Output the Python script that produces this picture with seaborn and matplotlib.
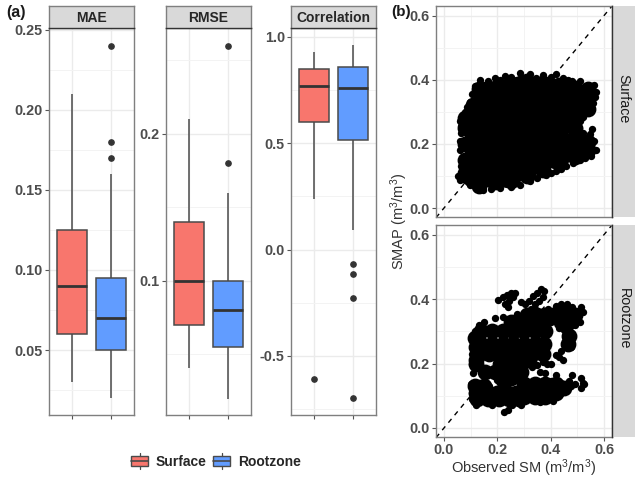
import numpy as np
import pandas as pd
import matplotlib
matplotlib.use('Agg')
import matplotlib.pyplot as plt
import seaborn as sns
from matplotlib.legend_handler import HandlerBase
from matplotlib.lines import Line2D
from matplotlib.patches import Patch, Rectangle

# ── Box summaries: low whisker, Q1, median, Q3, high whisker ──
LAYERS = ['Surface', 'Rootzone']
COLORS = {'Surface': '#F8766D', 'Rootzone': '#619CFF'}

mae_surface = [0.03, 0.06, 0.09, 0.125, 0.21]
mae_rootzone = [0.02, 0.05, 0.07, 0.095, 0.16]
mae_outliers_rootzone = [0.17, 0.18, 0.24]

rmse_surface = [0.041, 0.07, 0.10, 0.14, 0.21]
rmse_rootzone = [0.02, 0.055, 0.08, 0.10, 0.16]
rmse_outliers_rootzone = [0.18, 0.26]

corr_surface = [0.24, 0.60, 0.77, 0.85, 0.93]
corr_rootzone = [0.09, 0.515, 0.76, 0.86, 0.96]
corr_outliers_surface = [-0.61]
corr_outliers_rootzone = [-0.07, -0.115, -0.23, -0.70]

# ── Scatter clouds ──
surface_edge_x = [.059, .066, .078, .087, .096, .105, .115, .134, .150, .165, .190, .210, .228, .253, .270, .286,
                  .321, .345, .371, .400, .421, .446, .465, .481, .511, .534, .561, .569, .565, .559, .545, .534,
                  .520, .509, .505, .521, .556, .546, .561, .569, .553, .530, .509, .485, .459, .440, .420, .400,
                  .384, .350, .321, .284, .250, .209, .175, .146, .120, .096, .078, .059, .053, .065, .070, .059,
                  .059, .063, .065]
surface_edge_y = [.270, .285, .301, .316, .332, .355, .379, .400, .385, .395, .405, .398, .412, .408, .398, .421,
                  .418, .405, .415, .410, .418, .405, .398, .397, .397, .374, .384, .363, .345, .327, .312, .296,
                  .283, .270, .249, .234, .246, .231, .208, .182, .161, .157, .151, .141, .130, .123, .115, .110,
                  .104, .093, .083, .073, .067, .062, .058, .055, .062, .073, .088, .088, .099, .130, .155, .182,
                  .210, .234, .255]
surface_core_x = [.13, .13, .13, .13, .18, .18, .18, .18, .18, .18, .24, .24, .24, .24, .24, .24,
                  .30, .30, .30, .30, .30, .30, .36, .36, .36, .36, .36, .42, .42, .42, .42,
                  .48, .48, .48]
surface_core_y = [.13, .18, .23, .28, .11, .16, .21, .26, .31, .35, .11, .16, .21, .26, .31, .36,
                  .13, .18, .23, .28, .33, .37, .16, .21, .26, .31, .36, .26, .31, .36, .17,
                  .30, .35, .19]
surface_mid_x = [.08, .08, .08, .08, .08, .13, .13, .13, .13, .13, .19, .19, .25, .25, .31, .31,
                 .37, .37, .43, .43, .43, .49, .49, .49, .49, .54, .54, .54, .54, .54, .11, .10]
surface_mid_y = [.11, .15, .20, .25, .28, .09, .33, .37, .23, .07, .08, .375, .085, .385, .10, .395,
                 .12, .39, .14, .23, .385, .16, .25, .375, .22, .18, .205, .31, .35, .37, .32, .09]

rootzone_edge_x = [.203, .220, .235, .250, .267, .260, .245, .230, .240, .290, .305, .320, .335, .350, .365, .375,
                   .370, .355, .340, .325, .305, .275, .110, .115, .130, .150, .190, .220, .260, .300, .340, .390,
                   .400, .385, .380, .105, .105, .110, .370, .385, .420, .440, .460, .480, .500, .515, .520, .510,
                   .490, .470, .450, .430, .470, .470, .475, .440, .430, .445, .420, .360, .380, .420, .100, .130,
                   .170, .200, .300, .350, .400, .440, .470, .480, .475, .120, .180, .250, .290, .360, .410, .105,
                   .105, .225, .240, .255, .515, .520, .525, .515, .440, .400, .340, .290, .240, .160, .120, .330,
                   .350, .400, .455, .490]
rootzone_edge_y = [.398, .405, .413, .420, .420, .405, .395, .385, .375, .390, .385, .395, .410, .420, .430, .425,
                   .405, .395, .385, .370, .360, .355, .280, .300, .320, .330, .340, .345, .340, .345, .370, .370,
                   .330, .300, .260, .230, .200, .170, .205, .200, .380, .385, .385, .375, .360, .375, .360, .330,
                   .320, .310, .305, .310, .300, .270, .250, .240, .220, .210, .225, .175, .172, .165, .135, .140,
                   .130, .150, .140, .140, .145, .140, .145, .165, .130, .070, .070, .080, .070, .080, .085, .110,
                   .090, .050, .055, .070, .155, .140, .135, .125, .110, .105, .100, .100, .100, .105, .110, .190,
                   .195, .200, .130, .135]
rootzone_mid_x = [.14, .18, .22, .26, .30, .34, .38, .14, .18, .22, .26, .30, .34, .375, .25, .29, .33, .37,
                  .31, .35, .38, .13, .17, .21, .25, .29, .33, .37, .115, .12, .12, .155, .19, .225, .26, .29,
                  .12, .21, .25, .29, .32, .115, .15, .12, .16, .20, .24, .27, .125, .165, .205, .245, .28,
                  .30, .34, .38, .42, .30, .34, .38, .42, .30, .34, .38, .22, .25, .28, .43, .46, .49, .41, .44,
                  .47, .47, .465, .45]
rootzone_mid_y = [.30, .30, .30, .30, .30, .30, .30, .26, .26, .26, .26, .26, .26, .26, .33, .33, .33, .33,
                  .35, .35, .35, .23, .23, .23, .23, .23, .23, .23, .28, .25, .21, .175, .175, .175, .175, .175,
                  .20, .20, .20, .20, .21, .13, .13, .11, .11, .11, .11, .11, .09, .09, .09, .09, .09,
                  .135, .135, .135, .135, .11, .11, .11, .11, .095, .095, .095, .15, .155, .16, .36, .36, .35, .35,
                  .33, .33, .285, .26, .125]

x_ticks = [0.0, 0.2, 0.4, 0.6]
y_ticks = [0.0, 0.2, 0.4, 0.6]
minor_ticks = [0.1, 0.3, 0.5]

sns.set_theme(style='white')
plt.rcParams['font.family'] = ['Liberation Sans', 'DejaVu Sans']
plt.rcParams['mathtext.default'] = 'regular'

W, H = 636, 478
fig = plt.figure(figsize=(W / 100, H / 100), dpi=100)
TICK_GREY = '#4d4d4d'
BORDER = '#7f7f7f'


def px_axes(x0, y0, x1, y1):
    # y measured from the top, in pixels of the final image
    return fig.add_axes([x0 / W, 1 - y1 / H, (x1 - x0) / W, (y1 - y0) / H])


def box_frame(summary, outliers, layer):
    low, q1, med, q3, high = summary
    # quartile values repeated so that the quartiles stay put with outliers in the sample
    vals = [low] + [q1] * 20 + [med] * 20 + [q3] * 20 + [high] + list(outliers)
    return pd.DataFrame({'layer': layer, 'value': vals})


def style_panel(ax):
    for s in ax.spines.values():
        s.set_visible(True)
        s.set_color(BORDER)
        s.set_linewidth(1.0)
    ax.set_axisbelow(True)
    ax.grid(True, which='major', color='#ebebeb', linewidth=1.0)
    ax.grid(True, which='minor', color='#f3f3f3', linewidth=0.7)
    ax.tick_params(axis='both', which='major', length=3, width=0.8, color='#555555', bottom=True, left=True,
                   labelsize=10.4, labelcolor=TICK_GREY, pad=1.5)
    ax.tick_params(axis='both', which='minor', length=0)
    for lab in ax.get_yticklabels() + ax.get_xticklabels():
        lab.set_fontweight('bold')


def top_strip(x0, x1, title):
    st = px_axes(x0, 6, x1, 28)
    st.set_facecolor('#d9d9d9')
    st.set_xticks([]); st.set_yticks([])
    for side, s in st.spines.items():
        s.set_color(BORDER); s.set_linewidth(1.0)
    st.spines['bottom'].set_color('#333333')
    st.text(0.5, 0.47, title, ha='center', va='center', fontsize=10, fontweight='bold',
            color='#262626', transform=st.transAxes)


def side_strip(y0, y1, title):
    st = px_axes(612, y0, 635, y1)
    st.set_facecolor('#d9d9d9')
    st.set_xticks([]); st.set_yticks([])
    for side, s in st.spines.items():
        s.set_visible(side == 'left')
    st.spines['left'].set_color('#333333')
    st.spines['left'].set_linewidth(1.0)
    st.text(0.5, 0.56, title, ha='center', va='center', rotation=-90, fontsize=10.3,
            color='#1a1a1a', transform=st.transAxes)


# ── (a) box panels ───────────────────────────────────────────────────────────
box_panels = [
    ('MAE', 49, 134, (0.0094, 0.2512), [0.05, 0.10, 0.15, 0.20, 0.25], [0.025, 0.075, 0.125, 0.175, 0.225],
     ['0.05', '0.10', '0.15', '0.20', '0.25'], mae_surface, [], mae_rootzone, mae_outliers_rootzone),
    ('RMSE', 166, 251, (0.0088, 0.272), [0.1, 0.2], [0.05, 0.15, 0.25],
     ['0.1', '0.2'], rmse_surface, [], rmse_rootzone, rmse_outliers_rootzone),
    ('Correlation', 291, 376, (-0.778, 1.042), [-0.5, 0.0, 0.5, 1.0], [-0.75, -0.25, 0.25, 0.75],
     ['-0.5', '0.0', '0.5', '1.0'], corr_surface, corr_outliers_surface, corr_rootzone, corr_outliers_rootzone),
]

for title, x0, x1, ylim, ticks, minors, labels, surf, surf_out, root, root_out in box_panels:
    ax = px_axes(x0, 28, x1, 415)
    df = pd.concat([box_frame(surf, surf_out, 'Surface'), box_frame(root, root_out, 'Rootzone')])
    sns.boxplot(data=df, x='layer', y='value', hue='layer', order=LAYERS, hue_order=LAYERS, palette=COLORS,
                dodge=False, width=0.75, showcaps=False, linecolor='#4a4a4a', linewidth=1.1, saturation=1,
                medianprops={'linewidth': 2.0, 'color': '#333333'},
                flierprops={'marker': 'o', 'markersize': 3.8, 'markerfacecolor': '#333333',
                            'markeredgecolor': '#333333'},
                legend=False, ax=ax)
    ax.set_xlim(-0.59, 1.59)
    ax.set_ylim(*ylim)
    ax.set_yticks(ticks)
    ax.set_yticks(minors, minor=True)
    ax.set_yticklabels(labels)
    ax.set_xticks([0, 1])
    ax.set_xticklabels([])
    ax.set_xlabel(''); ax.set_ylabel('')
    style_panel(ax)
    top_strip(x0, x1, title)


# ── (b) scatter panels: all black, large markers only stand in for the solid interior ──
scatter_panels = [
    (6, 217, 'Surface', [(surface_core_x, surface_core_y, 450), (surface_mid_x, surface_mid_y, 130),
                         (surface_edge_x, surface_edge_y, 28)]),
    (225, 437, 'Rootzone', [(rootzone_mid_x, rootzone_mid_y, 130), (rootzone_edge_x, rootzone_edge_y, 28)]),
]

for y0, y1, name, layers in scatter_panels:
    ax = px_axes(436, y0, 612, y1)
    for xs, ys, size in layers:
        sns.scatterplot(x=xs, y=ys, s=size, color='black', linewidth=0, ax=ax, zorder=3)
    ax.plot([-0.03, 0.63], [-0.03, 0.63], color='black', linewidth=1.0, linestyle=(0, (3.5, 3.5)), zorder=2)
    ax.set_xlim(-0.03, 0.63)
    ax.set_ylim(-0.028, 0.63)
    ax.set_xticks(x_ticks)
    ax.set_xticks(minor_ticks, minor=True)
    ax.set_yticks(y_ticks)
    ax.set_yticks(minor_ticks, minor=True)
    ax.set_yticklabels(['0.0', '0.2', '0.4', '0.6'])
    if name == 'Rootzone':
        ax.set_xticklabels(['0.0', '0.2', '0.4', '0.6'])
    else:
        ax.set_xticklabels([])
    style_panel(ax)
    if name == 'Surface':
        ax.tick_params(axis='x', which='both', length=0)
    side_strip(y0, y1, name)


# ── Legend and labels ────────────────────────────────────────────────────────
class BoxKey(HandlerBase):
    def create_artists(self, legend, orig, xd, yd, width, height, fontsize, trans):
        cx, cy = width / 2 - xd, height / 2 - yd
        rect = Rectangle((-xd, cy - height * 0.5), width, height, facecolor=orig.get_facecolor(),
                         edgecolor='#4a4a4a', linewidth=1.0, transform=trans)
        med = Line2D([-xd, width - xd], [cy, cy], color='#4a4a4a', linewidth=1.2, transform=trans)
        top = Line2D([cx, cx], [cy + height * 0.5, cy + height * 0.8], color='#4a4a4a', linewidth=0.9, transform=trans)
        bot = Line2D([cx, cx], [cy - height * 0.8, cy - height * 0.5], color='#4a4a4a', linewidth=0.9, transform=trans)
        return [rect, med, top, bot]


handles = [Patch(facecolor=COLORS[k]) for k in LAYERS]
fig.legend(handles, LAYERS, handler_map={Patch: BoxKey()}, loc='center', bbox_to_anchor=(216 / W, 1 - 462 / H),
           ncol=2, frameon=False, handlelength=1.2, handleheight=0.75, handletextpad=0.55, columnspacing=0.5,
           prop={'weight': 'bold', 'size': 10})

fig.text(6 / W, 1 - 13 / H, '(a)', fontsize=11.5, fontweight='bold', color='#1a1a1a', va='center')
fig.text(391 / W, 1 - 12 / H, '(b)', fontsize=11, fontweight='bold', color='#1a1a1a', va='center')
fig.text(399 / W, 1 - 221 / H, 'SMAP (m$^3$/m$^3$)', rotation=90, ha='center', va='center', fontsize=10.5,
         color='#333333')
fig.text(524 / W, 1 - 468 / H, 'Observed SM (m$^3$/m$^3$)', ha='center', va='center', fontsize=10.5,
         color='#333333')

fig.savefig('out.png', dpi=100)
plt.close(fig)
